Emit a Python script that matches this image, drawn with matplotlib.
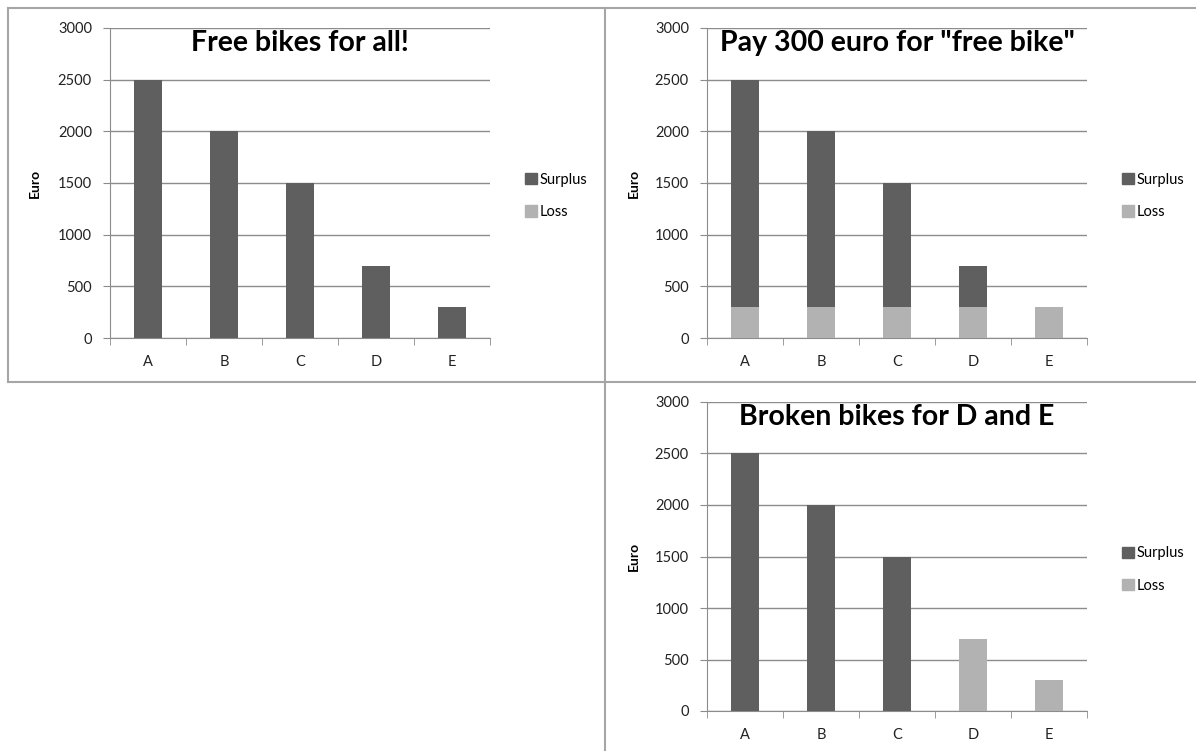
import numpy as np
import matplotlib.pyplot as plt
from matplotlib.lines import Line2D
from matplotlib.patches import Patch

plt.rcParams['font.family'] = ['Lato', 'DejaVu Sans']

W, H = 1196, 751

cats = ['A', 'B', 'C', 'D', 'E']
yticks = [0, 500, 1000, 1500, 2000, 2500, 3000]

# panel 1: free bikes
surplus1 = [2500, 2000, 1500, 700, 300]
loss1 = [0, 0, 0, 0, 0]
# panel 2: pay 300 euro
loss2 = [300, 300, 300, 300, 300]
surplus2 = [2200, 1700, 1200, 400, 0]
# panel 3: broken bikes for D and E
surplus3 = [2500, 2000, 1500, 0, 0]
loss3 = [0, 0, 0, 700, 300]

titles = ['Free bikes for all!', 'Pay 300 euro for "free bike"', 'Broken bikes for D and E']

dark = '#5f5f5f'
light = '#b2b2b2'
gridc = '#8c8c8c'

fig = plt.figure(figsize=(W / 100, H / 100), dpi=100)

def px_axes(left, top, right, bottom):
    return fig.add_axes([left / W, 1 - bottom / H, (right - left) / W, (bottom - top) / H])

# panel borders
border = '#a6a6a6'
for xs, ys in [([8, 1196], [8, 8]), ([8, 8], [8, 382]), ([8, 1196], [382, 382]), ([605, 605], [8, 751])]:
    fig.add_artist(Line2D([x / W for x in xs], [1 - y / H for y in ys], color=border, lw=1.5))

panels = [
    (110, 28, 490, 338, surplus1, loss1, 41),
    (707, 28, 1087, 338, surplus2, loss2, 640),
    (707, 402, 1087, 711, surplus3, loss3, 640),
]

x = np.arange(len(cats))
for i, (l, t, r, b, surp, loss, lab_x) in enumerate(panels):
    ax = px_axes(l, t, r, b)
    ax.bar(x, loss, width=0.38, color=light, zorder=3)
    ax.bar(x, surp, width=0.38, bottom=loss, color=dark, zorder=3)
    ax.set_xlim(-0.5, len(cats) - 0.5)
    ax.set_ylim(0, 3000)
    ax.set_yticks(yticks)
    ax.set_yticklabels([str(v) for v in yticks], fontsize=10.5, color='#222222')
    ax.set_xticks(x)
    ax.set_xticklabels(cats, fontsize=10.5, color='#222222')
    ax.tick_params(axis='x', length=0, pad=12)
    ax.set_xticks(np.arange(-0.5, len(cats)), minor=True)
    ax.tick_params(axis='x', which='minor', length=5, color=gridc, direction='out')
    ax.tick_params(axis='y', length=5, color=gridc, direction='out', pad=8)
    ax.grid(axis='y', color=gridc, lw=1, zorder=0)
    for s in ['top', 'right']:
        ax.spines[s].set_visible(False)
    for s in ['left', 'bottom']:
        ax.spines[s].set_color(gridc)
    ax.set_ylabel('Euro', fontsize=10, fontweight='bold')
    ax.yaxis.set_label_coords((lab_x - l) / (r - l), 0.5)
    ax.text(0.5, 0.95, titles[i], transform=ax.transAxes, ha='center', va='center',
            fontsize=20.5, fontweight='bold', color='black', zorder=5)
    handles = [Patch(color=dark, label='Surplus'), Patch(color=light, label='Loss')]
    leg_y = 1 - ((t + b) / 2 + 13) / H
    fig.legend(handles=handles, loc='center left', bbox_to_anchor=((r + 22) / W, leg_y),
               frameon=False, fontsize=10.5, handlelength=0.8, handleheight=0.8,
               handletextpad=0.2, labelspacing=1.25)

fig.savefig('out.png', dpi=100)
